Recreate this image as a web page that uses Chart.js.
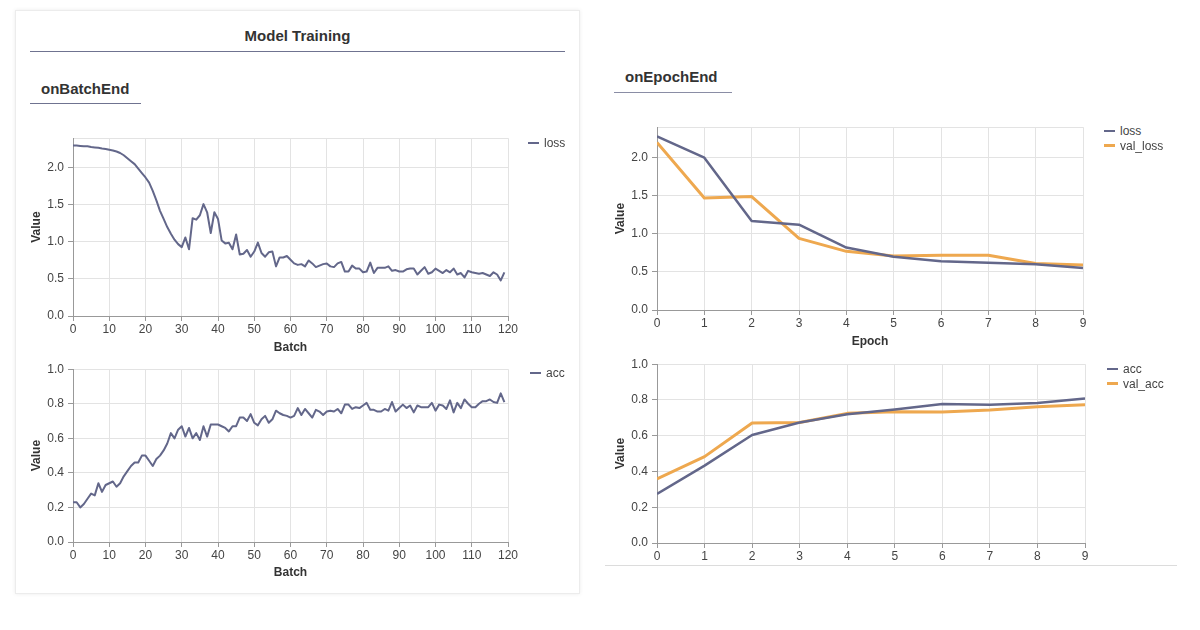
<!DOCTYPE html>
<html>
<head>
<meta charset="utf-8">
<script src="https://cdn.jsdelivr.net/npm/chart.js@4.4.1/dist/chart.umd.min.js"></script>
<style>
  html, body { margin: 0; padding: 0; background: #fff; }
  body { width: 1200px; height: 630px; position: relative; overflow: hidden;
         font-family: "Liberation Sans", Arial, sans-serif; color: #333; }
  .abs { position: absolute; }
  .card { left: 15px; top: 10px; width: 563px; height: 582px; border: 1px solid #ececec;
          box-shadow: 0 0 4px rgba(0,0,0,0.08); background: #fff; }
  .head { font-weight: bold; font-size: 15px; line-height: 18px; color: #333; white-space: nowrap; }
  .rule { height: 0; border-top: 1px solid #6f7390; }
  .chartBox { position: absolute; }
  .legend { font-size: 12px; line-height: 14px; color: #444; white-space: nowrap; }
  .legend .sw { position: absolute; left: 0; width: 11px; }
  .legend .tx { position: absolute; top: 0; }
</style>
</head>
<body>
<div class="abs card"></div>
<div class="abs head" style="left:30px;top:27px;width:535px;text-align:center;">Model Training</div>
<div class="abs rule" style="left:30px;top:51px;width:535px;"></div>
<div class="abs head" style="left:41px;top:80px;">onBatchEnd</div>
<div class="abs rule" style="left:30px;top:103px;width:111px;"></div>
<div class="abs head" style="left:625px;top:68px;">onEpochEnd</div>
<div class="abs rule" style="left:614px;top:92px;width:118px;border-top-color:#8a8da5;"></div>
<div class="abs" style="left:605px;top:565px;width:572px;height:0;border-top:1px solid #dcdcdc;"></div>

<div class="chartBox" style="left:20px;top:127px;width:500px;height:231px;"><canvas id="batchLossChart"></canvas></div>
<div class="chartBox" style="left:20px;top:358px;width:500px;height:225px;"><canvas id="batchAccChart"></canvas></div>
<div class="chartBox" style="left:604px;top:116px;width:491px;height:236px;"><canvas id="epochLossChart"></canvas></div>
<div class="chartBox" style="left:604px;top:353px;width:493px;height:212px;"><canvas id="epochAccChart"></canvas></div>

<div id="legends"></div>

<script>
// ---- data ----
const batchLoss = [
  2.30, 2.30, 2.295, 2.29, 2.29, 2.28, 2.275, 2.27, 2.26, 2.255,
  2.245, 2.235, 2.22, 2.20, 2.17, 2.13, 2.09, 2.05, 1.99, 1.93,
  1.87, 1.80, 1.69, 1.56, 1.42, 1.31, 1.20, 1.11, 1.03, 0.97,
  0.93, 1.06, 0.90, 1.32, 1.30, 1.36, 1.51, 1.40, 1.12, 1.40,
  1.31, 1.02, 0.98, 0.99, 0.90, 1.10, 0.83, 0.84, 0.89, 0.80,
  0.87, 0.99, 0.85, 0.80, 0.86, 0.87, 0.67, 0.79, 0.79, 0.81,
  0.76, 0.71, 0.69, 0.70, 0.67, 0.75, 0.71, 0.66, 0.68, 0.70,
  0.71, 0.67, 0.66, 0.71, 0.73, 0.60, 0.60, 0.68, 0.64, 0.64,
  0.59, 0.60, 0.72, 0.58, 0.65, 0.65, 0.65, 0.67, 0.61, 0.62,
  0.60, 0.60, 0.63, 0.64, 0.64, 0.56, 0.61, 0.66, 0.57, 0.59,
  0.64, 0.61, 0.58, 0.62, 0.59, 0.64, 0.56, 0.58, 0.52, 0.61,
  0.59, 0.58, 0.57, 0.58, 0.56, 0.54, 0.59, 0.56, 0.48, 0.59
];
const batchAcc = [
  0.23, 0.23, 0.20, 0.22, 0.25, 0.28, 0.27, 0.34, 0.29, 0.33,
  0.34, 0.35, 0.32, 0.34, 0.38, 0.41, 0.44, 0.46, 0.46, 0.50,
  0.50, 0.47, 0.44, 0.48, 0.50, 0.53, 0.57, 0.63, 0.60, 0.65,
  0.67, 0.61, 0.66, 0.60, 0.63, 0.59, 0.67, 0.61, 0.68, 0.68,
  0.68, 0.67, 0.66, 0.64, 0.67, 0.67, 0.72, 0.72, 0.70, 0.74,
  0.69, 0.675, 0.71, 0.73, 0.69, 0.71, 0.76, 0.745, 0.735, 0.73,
  0.72, 0.73, 0.775, 0.735, 0.77, 0.745, 0.72, 0.765, 0.755, 0.735,
  0.755, 0.76, 0.755, 0.77, 0.745, 0.795, 0.795, 0.77, 0.78, 0.775,
  0.79, 0.805, 0.765, 0.765, 0.755, 0.755, 0.77, 0.76, 0.81, 0.755,
  0.775, 0.795, 0.775, 0.79, 0.75, 0.79, 0.78, 0.78, 0.78, 0.805,
  0.76, 0.795, 0.79, 0.77, 0.82, 0.75, 0.805, 0.775, 0.825, 0.80,
  0.78, 0.78, 0.80, 0.815, 0.815, 0.825, 0.81, 0.805, 0.86, 0.81
];

const epochLoss    = [2.28, 2.00, 1.17, 1.12, 0.82, 0.70, 0.64, 0.62, 0.60, 0.55];
const epochValLoss = [2.20, 1.47, 1.49, 0.94, 0.77, 0.71, 0.72, 0.72, 0.61, 0.59];
const epochAcc     = [0.275, 0.433, 0.604, 0.674, 0.72, 0.747, 0.777, 0.773, 0.783, 0.808];
const epochValAcc  = [0.359, 0.483, 0.671, 0.674, 0.725, 0.734, 0.732, 0.744, 0.762, 0.773];

const batchTicks = [0, 10, 20, 30, 40, 50, 60, 70, 80, 90, 100, 110, 120];
const epochTicks = [0, 1, 2, 3, 4, 5, 6, 7, 8, 9];
const lossTicks  = [0, 0.5, 1.0, 1.5, 2.0];
const lossMax    = 2.4;
const accTicks   = [0, 0.2, 0.4, 0.6, 0.8, 1.0];

const seriesColor = "#63678a";
const valColor    = "#eea84f";

function toPoints(values) {
  return values.map((y, x) => ({ x, y }));
}

function lineSet(label, values, color, width) {
  return {
    label: label,
    data: toPoints(values),
    borderColor: color,
    backgroundColor: color,
    borderWidth: width,
    borderJoinStyle: "round",
    pointRadius: 0,
    fill: false,
    tension: 0
  };
}

function renderLineChart(canvasId, datasets, cfg) {
  const canvas = document.getElementById(canvasId);
  const ctx = canvas.getContext("2d");
  const tickFont = { family: "'Liberation Sans', Arial, sans-serif", size: 12 };
  const titleFont = { family: "'Liberation Sans', Arial, sans-serif", size: 12, weight: "bold" };

  return new Chart(ctx, {
    type: "line",
    data: { datasets: datasets },
    options: {
      responsive: true,
      maintainAspectRatio: false,
      animation: false,
      layout: { padding: { top: 10, right: 12, left: 0, bottom: 0 } },
      plugins: { legend: { display: false }, tooltip: { enabled: false } },
      scales: {
        x: {
          type: "linear",
          min: 0,
          max: cfg.xTicks[cfg.xTicks.length - 1],
          afterBuildTicks: (scale) => { scale.ticks = cfg.xTicks.map(v => ({ value: v })); },
          afterFit: (scale) => { scale.height = cfg.xHeight; },
          ticks: { autoSkip: false, maxRotation: 0, padding: 1, color: "#444", font: tickFont,
                   callback: (v) => String(v) },
          grid: { color: "#e3e3e3", tickColor: "#999", tickLength: 5 },
          border: { color: "#999" },
          title: { display: !!cfg.xTitle, text: cfg.xTitle || "", color: "#333", font: titleFont,
                   padding: { top: 0, bottom: 3 } }
        },
        y: {
          type: "linear",
          min: 0,
          max: cfg.yMax,
          afterBuildTicks: (scale) => {
            const vals = cfg.yTicks.slice();
            if (vals[vals.length - 1] < cfg.yMax) vals.push(cfg.yMax);
            scale.ticks = vals.map(v => ({ value: v }));
          },
          afterFit: (scale) => { scale.width = cfg.yWidth; },
          ticks: { padding: 4, color: "#444", font: tickFont,
                   callback: (v) => cfg.yTicks.includes(v) ? v.toFixed(1) : "" },
          grid: { color: "#e3e3e3", tickLength: 5,
                  tickColor: (c) => (c.tick && cfg.yTicks.includes(c.tick.value)) ? "#999" : "rgba(0,0,0,0)" },
          border: { color: "#999" },
          title: { display: true, text: "Value", color: "#333", font: titleFont,
                   padding: { top: 9, bottom: 0 } }
        }
      }
    }
  });
}

// Legends drawn as plain text blocks beside each chart
function addLegend(left, top, items) {
  const holder = document.getElementById("legends");
  items.forEach((item, i) => {
    const row = document.createElement("div");
    row.className = "abs legend";
    row.style.left = left + "px";
    row.style.top = (top + i * 14.5) + "px";
    row.style.width = "90px";
    row.style.height = "14px";
    const sw = document.createElement("span");
    sw.className = "sw";
    sw.style.top = (7 - item.width / 2) + "px";
    sw.style.height = item.width + "px";
    sw.style.background = item.color;
    const tx = document.createElement("span");
    tx.className = "tx";
    tx.style.left = "16px";
    tx.textContent = item.label;
    row.appendChild(sw);
    row.appendChild(tx);
    holder.appendChild(row);
  });
}

renderLineChart("batchLossChart",
  [lineSet("loss", batchLoss, seriesColor, 2)],
  { xTicks: batchTicks, yTicks: lossTicks, yMax: lossMax, xTitle: "Batch", xHeight: 42, yWidth: 53 });

renderLineChart("batchAccChart",
  [lineSet("acc", batchAcc, seriesColor, 2)],
  { xTicks: batchTicks, yTicks: accTicks, yMax: 1.0, xTitle: "Batch", xHeight: 41, yWidth: 53 });

renderLineChart("epochLossChart",
  [lineSet("loss", epochLoss, seriesColor, 2.5), lineSet("val_loss", epochValLoss, valColor, 3)],
  { xTicks: epochTicks, yTicks: lossTicks, yMax: lossMax, xTitle: "Epoch", xHeight: 42, yWidth: 53 });

renderLineChart("epochAccChart",
  [lineSet("acc", epochAcc, seriesColor, 2.5), lineSet("val_acc", epochValAcc, valColor, 3)],
  { xTicks: epochTicks, yTicks: accTicks, yMax: 1.0, xTitle: "", xHeight: 22, yWidth: 53 });

addLegend(528, 136, [{ label: "loss", color: seriesColor, width: 2 }]);
addLegend(530, 366, [{ label: "acc", color: seriesColor, width: 2 }]);
addLegend(1104, 124, [
  { label: "loss", color: seriesColor, width: 2 },
  { label: "val_loss", color: valColor, width: 3 }
]);
addLegend(1107, 362, [
  { label: "acc", color: seriesColor, width: 2 },
  { label: "val_acc", color: valColor, width: 3 }
]);
</script>
</body>
</html>
